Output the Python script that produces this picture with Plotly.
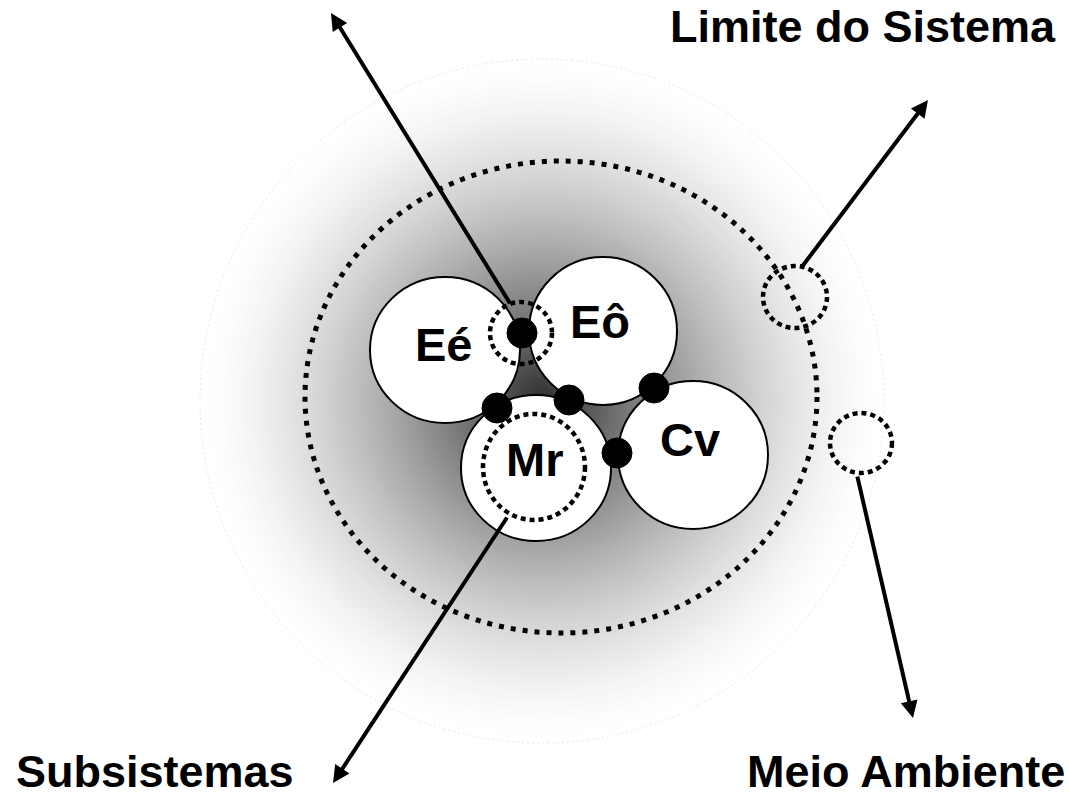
import plotly.graph_objects as go

W, H = 1069, 799

# ---- diagram data (pixel space) ----
subsys_names = ["Eé", "Eô", "Mr", "Cv"]
subsys_cx = [445, 603, 536, 693]
subsys_cy = [350, 331, 468, 455]
subsys_rx = [75, 74, 75, 75]
subsys_ry = [73, 74, 73, 74]
label_x = [444, 600, 534, 690]
label_y = [344, 321, 459, 439]

link_x = [522, 497, 569, 654, 617]
link_y = [333, 408, 400, 388, 453]
link_r = 15

dotted_cx = [521, 534, 795, 861]
dotted_cy = [333, 467, 297, 443]
dotted_rx = [31, 51, 32, 31]
dotted_ry = [31, 53, 31, 30]

boundary_c = (561, 397)
boundary_r = (256, 236)

env_c = (542, 401)
env_r = 342

arrow_from_x = [511, 801, 857, 508]
arrow_from_y = [305, 268, 475, 516]
arrow_to_x = [331, 928, 913, 333]
arrow_to_y = [13, 100, 718, 783]

labels = ["Limite do Sistema", "Subsistemas", "Meio Ambiente"]
labels_x = [669, 15, 1066]
labels_y = [0, 798, 798]
labels_xanchor = ["left", "left", "right"]
labels_yanchor = ["top", "bottom", "bottom"]

FONT = "Liberation Sans, Arial, sans-serif"

shapes = []
# radial shading of the environment
steps = 140
for i in range(steps):
    t = 1 - i / steps
    r = env_r * t
    g = int(round(255 - 210 * (1 - t) ** 1.5))
    col = f"rgb({g},{g},{g})"
    shapes.append(dict(type="circle", xref="x", yref="y",
                       x0=env_c[0] - r, x1=env_c[0] + r,
                       y0=env_c[1] - r, y1=env_c[1] + r,
                       fillcolor=col, line=dict(width=0), layer="below"))
# faint outer limit
shapes.append(dict(type="circle", xref="x", yref="y",
                   x0=env_c[0] - env_r, x1=env_c[0] + env_r,
                   y0=env_c[1] - env_r, y1=env_c[1] + env_r,
                   line=dict(color="#ebe7d8", width=1, dash="2px,3px")))
# system boundary
shapes.append(dict(type="circle", xref="x", yref="y",
                   x0=boundary_c[0] - boundary_r[0], x1=boundary_c[0] + boundary_r[0],
                   y0=boundary_c[1] - boundary_r[1], y1=boundary_c[1] + boundary_r[1],
                   line=dict(color="black", width=5, dash="5px,7px")))
# subsystems
for cx, cy, rx, ry in zip(subsys_cx, subsys_cy, subsys_rx, subsys_ry):
    shapes.append(dict(type="circle", xref="x", yref="y",
                       x0=cx - rx, x1=cx + rx, y0=cy - ry, y1=cy + ry,
                       fillcolor="white", line=dict(color="black", width=2)))
# dashed small circles
for cx, cy, rx, ry in zip(dotted_cx, dotted_cy, dotted_rx, dotted_ry):
    shapes.append(dict(type="circle", xref="x", yref="y",
                       x0=cx - rx, x1=cx + rx, y0=cy - ry, y1=cy + ry,
                       line=dict(color="black", width=4.5, dash="5px,4px")))
# links
for cx, cy in zip(link_x, link_y):
    shapes.append(dict(type="circle", xref="x", yref="y",
                       x0=cx - link_r, x1=cx + link_r, y0=cy - link_r, y1=cy + link_r,
                       fillcolor="black", line=dict(color="black", width=1)))

annotations = []
for fx, fy, tx, ty in zip(arrow_from_x, arrow_from_y, arrow_to_x, arrow_to_y):
    annotations.append(dict(x=tx, y=ty, ax=fx, ay=fy, xref="x", yref="y",
                            axref="x", ayref="y", text="", showarrow=True,
                            arrowhead=2, arrowsize=0.85, arrowwidth=4,
                            arrowcolor="black", standoff=0, startstandoff=0))
for name, x, y in zip(subsys_names, label_x, label_y):
    annotations.append(dict(x=x, y=y, xref="x", yref="y", text=f"<b>{name}</b>",
                            showarrow=False, xanchor="center", yanchor="middle",
                            font=dict(family=FONT, size=47, color="black")))
for txt, x, y, xa, ya in zip(labels, labels_x, labels_y, labels_xanchor, labels_yanchor):
    annotations.append(dict(x=x, y=y, xref="x", yref="y", text=f"<b>{txt}</b>",
                            showarrow=False, xanchor=xa, yanchor=ya, borderpad=0,
                            font=dict(family=FONT, size=45, color="black")))

fig = go.Figure()
fig.update_layout(
    width=W, height=H,
    margin=dict(l=0, r=0, t=0, b=0),
    paper_bgcolor="white", plot_bgcolor="white",
    xaxis=dict(range=[0, W], visible=False, fixedrange=True),
    yaxis=dict(range=[H, 0], visible=False, fixedrange=True),
    shapes=shapes, annotations=annotations, showlegend=False,
)
fig.write_html(
    "out.html",
    config={"displayModeBar": False, "staticPlot": True},
    post_script="document.body.style.margin='0px';document.body.style.overflow='hidden';",
)
